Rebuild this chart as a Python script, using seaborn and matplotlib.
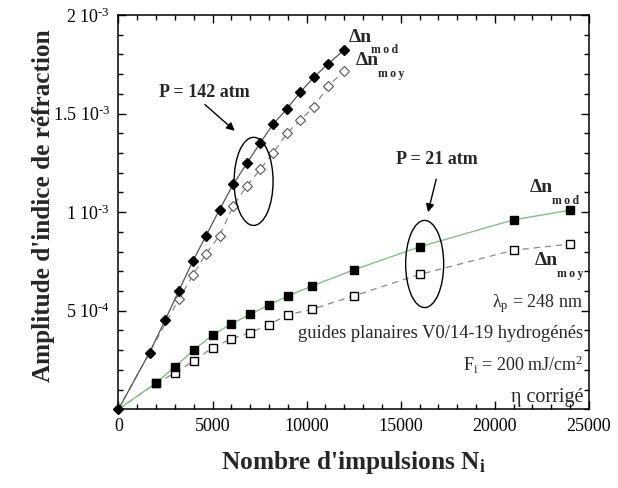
import numpy as np
import pandas as pd
import matplotlib
matplotlib.use("Agg")
import matplotlib.pyplot as plt
from matplotlib.patches import Ellipse
from matplotlib.ticker import FixedLocator, MultipleLocator, FuncFormatter
import seaborn as sns

# ---- data (amplitudes in units of 1e-3) ----
n_142 = [0, 1650, 2480, 3200, 3950, 4650, 5370, 6100, 6830, 7540, 8210, 8950, 9660, 10400, 11120, 12000]
dn_mod_142 = [0, 0.288, 0.452, 0.600, 0.751, 0.880, 1.013, 1.141, 1.249, 1.352, 1.445, 1.524, 1.608, 1.687, 1.750, 1.824]
n_142_moy = [0, 3200, 3950, 4650, 5370, 6100, 6830, 7540, 8210, 8950, 9660, 10400, 11120, 12000]
dn_moy_142 = [0, 0.557, 0.679, 0.790, 0.880, 1.032, 1.134, 1.218, 1.298, 1.401, 1.467, 1.535, 1.638, 1.716]

n_21 = [0, 2000, 3000, 4000, 5000, 6000, 7000, 8000, 9000, 10300, 12500, 16000, 21000, 24000]
dn_mod_21 = [0, 0.134, 0.215, 0.301, 0.377, 0.433, 0.482, 0.529, 0.575, 0.626, 0.707, 0.824, 0.961, 1.010]
dn_moy_21 = [0, 0.132, 0.184, 0.245, 0.313, 0.357, 0.389, 0.430, 0.479, 0.508, 0.575, 0.684, 0.807, 0.838]

y_ticks = [0.5e-3, 1.0e-3, 1.5e-3, 2.0e-3]
y_tick_labels = ["5 10$^{\\mathregular{\u20104}}$", "1 10$^{\\mathregular{\u20103}}$",
                 "1.5 10$^{\\mathregular{\u20103}}$", "2 10$^{\\mathregular{\u20103}}$"]

sns.set_theme(style="ticks")
plt.rcParams["font.family"] = ["Liberation Serif", "DejaVu Serif"]
plt.rcParams["mathtext.fontset"] = "custom"
plt.rcParams["mathtext.rm"] = "Liberation Serif"
plt.rcParams["mathtext.it"] = "Liberation Serif:italic"
plt.rcParams["mathtext.bf"] = "Liberation Serif:bold"

fig = plt.figure(figsize=(6.18, 4.88), dpi=100)
ax = fig.add_axes([0.1917, 0.1613, 0.7613, 0.8080])

def frame(x, y):
    return pd.DataFrame({"x": x, "y": np.asarray(y) * 1e-3})

d142m = frame(n_142, dn_mod_142)
d142a = frame(n_142_moy, dn_moy_142)
d21m = frame(n_21, dn_mod_21)
d21a = frame(n_21, dn_moy_21)

# P = 21 atm series
sns.lineplot(data=d21a, x="x", y="y", ax=ax, color="#8a8a8a", lw=0.9,
             linestyle=(0, (5, 4)), estimator=None, sort=False, zorder=2)
sns.lineplot(data=d21m, x="x", y="y", ax=ax, color="#86bd86", lw=1.0,
             estimator=None, sort=False, zorder=2)
ax.plot(d21a.x[1:], d21a.y[1:], ls="none", marker="s", ms=6.2, mfc="white",
        mec="black", mew=1.0, zorder=3)
ax.plot(d21m.x[1:], d21m.y[1:], ls="none", marker="s", ms=5.2, mfc="black",
        mec="black", zorder=4)

# P = 142 atm series
sns.lineplot(data=d142a, x="x", y="y", ax=ax, color="#8a8a8a", lw=0.9,
             linestyle=(0, (5, 4)), estimator=None, sort=False, zorder=2)
sns.lineplot(data=d142m, x="x", y="y", ax=ax, color="#555555", lw=0.9,
             estimator=None, sort=False, zorder=2)
ax.plot(d142a.x[1:], d142a.y[1:], ls="none", marker="D", ms=4.6, mfc="white",
        mec="#555555", mew=0.8, zorder=3)
ax.plot(d142m.x, d142m.y, ls="none", marker="D", ms=5.6, mfc="black",
        mec="black", zorder=4, clip_on=False)

ax.set_xlim(0, 25000)
ax.set_ylim(0, 2e-3)
ax.xaxis.set_major_locator(MultipleLocator(5000))
ax.xaxis.set_minor_locator(MultipleLocator(1000))
ax.xaxis.set_major_formatter(FuncFormatter(lambda v, p: f"{int(v)}"))
ax.yaxis.set_major_locator(FixedLocator(y_ticks))
ax.set_yticklabels(y_tick_labels)
ax.yaxis.set_minor_locator(MultipleLocator(1e-4))
ax.tick_params(which="both", direction="in", top=True, right=True,
               labelsize=13, colors="black", width=1.0, pad=6)
ax.tick_params(which="major", length=6)
ax.tick_params(which="minor", length=3.8)
for s in ax.spines.values():
    s.set_linewidth(1.1)
    s.set_color("black")

ax.set_xlabel("Nombre d'impulsions N$_{\\mathbf{i}}$", fontsize=18.3,
              fontweight="bold", labelpad=10)
ax.set_ylabel("Amplitude d'indice de réfraction", fontsize=18.2,
              fontweight="bold")
ax.yaxis.set_label_coords(-0.135, 0.517)

# pressure annotations
ax.add_patch(Ellipse((7180, 1.156e-3), 2070, 0.447e-3, fill=False,
                     ec="black", lw=1.0, zorder=5))
ax.add_patch(Ellipse((16270, 0.737e-3), 2020, 0.442e-3, fill=False,
                     ec="black", lw=1.0, zorder=5))
ax.annotate("", xy=(6290, 1.403e-3), xytext=(4485, 1.555e-3),
            arrowprops=dict(arrowstyle="-|>", color="black", lw=1.0,
                            mutation_scale=12))
ax.annotate("", xy=(16412, 0.986e-3), xytext=(16921, 1.181e-3),
            arrowprops=dict(arrowstyle="-|>", color="black", lw=1.0,
                            mutation_scale=12))
ax.text(4540, 1.606e-3, "P = 142 atm", fontsize=13, fontweight="bold",
        ha="center", va="center")
ax.text(16930, 1.265e-3, "P = 21 atm", fontsize=13, fontweight="bold",
        ha="center", va="center")

# series labels
def dn_label(x, y, sub):
    ax.text(x, y, "Δn", fontsize=14, fontweight="bold", ha="left",
            va="baseline")
    ax.text(x + 1200, y - 0.06e-3, sub, fontsize=8.5, fontweight="bold",
            ha="left", va="baseline")

dn_label(12220, 1.865e-3, "m\u2009o\u2009d")
dn_label(12600, 1.745e-3, "m\u2009o\u2009y")
dn_label(21850, 1.100e-3, "m\u2009o\u2009d")
dn_label(22100, 0.730e-3, "m\u2009o\u2009y")

# experimental conditions
tx = 24700
ax.text(tx, 0.535e-3, "λ$_{\\mathregular{p}}$ = 248 nm", fontsize=13,
        ha="right", va="center")
ax.text(tx, 0.385e-3, "guides planaires V0/14-19 hydrogénés", fontsize=13.3,
        ha="right", va="center")
ax.text(tx, 0.225e-3, "F$_{\\mathregular{i}}$ = 200 mJ/cm$^{\\mathregular{2}}$",
        fontsize=13, ha="right", va="center")
ax.text(tx, 0.058e-3, "η corrigé", fontsize=14.5, ha="right", va="center")

fig.savefig("out.png", dpi=100)
